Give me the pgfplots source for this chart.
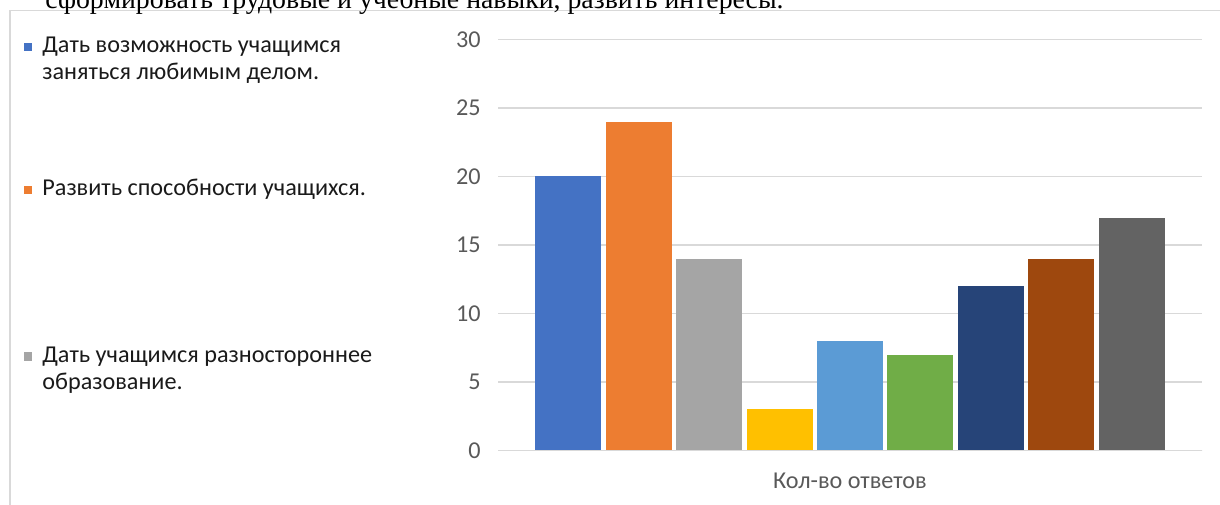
\documentclass[border=0pt]{standalone}
\usepackage{fontspec}
\setmainfont{Carlito}
\newfontfamily\titlefont{Liberation Serif}
\usepackage{pgfplots}
\pgfplotsset{compat=1.18}

\definecolor{c1}{HTML}{4472C4}
\definecolor{c2}{HTML}{ED7D31}
\definecolor{c3}{HTML}{A5A5A5}
\definecolor{c4}{HTML}{FFC000}
\definecolor{c5}{HTML}{5B9BD5}
\definecolor{c6}{HTML}{70AD47}
\definecolor{c7}{HTML}{264478}
\definecolor{c8}{HTML}{9E480E}
\definecolor{c9}{HTML}{636363}
\definecolor{gridc}{HTML}{D9D9D9}
\definecolor{labc}{HTML}{595959}
\definecolor{legc}{HTML}{1A1A1A}

\newcommand{\lbl}{\fontsize{12.1}{13.5}\selectfont}

\begin{document}
\begin{tikzpicture}
\begin{axis}[
    at={(249pt,26.75pt)}, anchor=south west,
    scale only axis, width=352pt, height=205.5pt,
    xmin=-0.5, xmax=0.5,
    ymin=0, ymax=30,
    ytick={0,5,10,15,20,25,30},
    xtick=\empty,
    ybar=2.2pt, bar width=33pt,
    axis line style={draw=none},
    ymajorgrids=true,
    grid style={gridc, line width=0.75pt},
    ytick style={draw=none},
    /pgf/number format/assume math mode=true,
    yticklabel style={inner sep=0pt, xshift=-8.5pt, text=labc, font=\lbl},
    xlabel={Кол-во ответов},
    xlabel style={at={(axis description cs:0.5,0)}, anchor=center,
      yshift=-15.25pt, inner sep=0pt, text=labc, font=\lbl},
]
\addplot[draw=none, fill=c1] coordinates {(0,20)};
\addplot[draw=none, fill=c2] coordinates {(0,24)};
\addplot[draw=none, fill=c3] coordinates {(0,14)};
\addplot[draw=none, fill=c4] coordinates {(0,3)};
\addplot[draw=none, fill=c5] coordinates {(0,8)};
\addplot[draw=none, fill=c6] coordinates {(0,7)};
\addplot[draw=none, fill=c7] coordinates {(0,12)};
\addplot[draw=none, fill=c8] coordinates {(0,14)};
\addplot[draw=none, fill=c9] coordinates {(0,17)};

% category axis with its end ticks
\draw[gridc, line width=0.75pt]
  ([yshift=-3.25pt]axis cs:-0.5,0) -- (axis cs:-0.5,0)
  -- (axis cs:0.5,0) -- ([yshift=-3.25pt]axis cs:0.5,0);
\end{axis}

% legend (only the first three entries fit, as in the source)
\begin{scope}[every node/.style={anchor=base west, inner sep=0pt, text=legc, font=\lbl}]
  \fill[c1] (11.8pt,226.3pt) rectangle ++(4.4pt,4.4pt);
  \node at (21pt,225.5pt) {Дать возможность учащимся};
  \node at (21pt,212pt) {заняться любимым делом.};
  \fill[c2] (11.8pt,154.8pt) rectangle ++(4.4pt,4.4pt);
  \node at (21pt,154pt) {Развить способности учащихся.};
  \fill[c3] (11.8pt,71.55pt) rectangle ++(4.4pt,4.4pt);
  \node at (21pt,70.75pt) {Дать учащимся разностороннее};
  \node at (21pt,57.25pt) {образование.};
\end{scope}

% chart frame and the cut-off line of text above it
\draw[gridc, line width=0.9pt] (5pt,-5pt) -- (5pt,246.75pt) -- (620pt,246.75pt);
\node[anchor=base west, inner sep=0pt, font=\titlefont\fontsize{13.9}{15}\selectfont]
  at (22.5pt,247.8pt) {сформировать трудовые и учебные навыки, развить интересы.};

\pgfresetboundingbox
\useasboundingbox (0,0) rectangle (610pt,252pt);
\end{tikzpicture}
\end{document}
